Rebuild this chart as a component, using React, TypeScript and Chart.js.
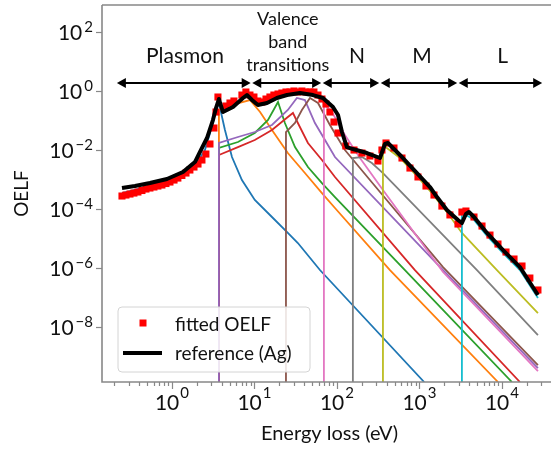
import React, { useEffect, useRef } from "react";
import { Chart, registerables } from "chart.js";

Chart.register(...registerables);

// ---------- data (energy in eV, OELF) ----------
const referenceE = [0.248,0.356,0.541,0.87,1.36,1.9,2.18,2.66,3.14,3.42,3.71,4.15,5.49,7.26,8.11,9.33,11.0,14.2,18.7,24.8,35.6,51.2,67.6,89.5,103,115,132,156,231,332,382,415,580,933,1340,1630,2150,2930,3270,3660,3980,4580,6580,10300,16500,20100,27300];
const referenceV = [5.15e-4,6.02e-4,7.6e-4,1.04e-3,1.8e-3,3.92e-3,8.55e-3,0.0255,0.104,0.265,0.535,0.194,0.287,0.58,0.73,0.495,0.335,0.392,0.58,0.73,0.855,0.73,0.58,0.287,0.154,0.0408,0.0126,0.0108,7.9e-3,5.36e-3,0.016,0.0173,6.78e-3,1.66e-3,5.57e-4,2.55e-4,9.25e-5,4.24e-5,3.35e-5,6.77e-5,7.9e-5,5.36e-5,1.54e-5,4.07e-6,1.08e-6,4.58e-7,1.22e-7];

const fittedE = [0.248,0.277,0.31,0.346,0.387,0.433,0.484,0.541,0.605,0.676,0.756,0.846,0.946,1.06,1.18,1.32,1.48,1.65,1.85,2.07,2.31,2.58,2.89,3.23,3.42,3.61,4.51,5.05,5.64,7.05,7.88,8.82,9.86,11.0,12.3,13.8,15.4,17.2,19.3,21.5,24.1,26.9,30.1,33.7,37.6,42.1,47.1,52.6,58.9,65.8,73.6,82.2,92,103,128,161,201,251,314,351,393,491,614,767,959,1200,1500,1870,2340,2930,3270,3660,4580,5730,7160,8950,11200,14000,17500,21800,27300];
const fittedV = [2.76e-4,2.98e-4,3.22e-4,3.48e-4,3.77e-4,4.24e-4,4.76e-4,5.15e-4,5.57e-4,6.02e-4,6.51e-4,7.31e-4,8.22e-4,9.6e-4,1.12e-3,1.37e-3,1.66e-3,2.1e-3,2.65e-3,3.35e-3,4.58e-3,7.31e-3,0.016,0.0557,0.194,0.626,0.31,0.392,0.458,0.73,0.925,0.73,0.626,0.458,0.424,0.535,0.626,0.73,0.791,0.855,0.925,0.925,1.0,0.925,1.0,0.925,0.925,0.925,0.73,0.535,0.362,0.194,0.0889,0.0377,0.0137,0.01,7.9e-3,6.26e-3,4.24e-3,0.01,0.0173,0.0117,5.36e-3,2.45e-3,1.22e-3,6.02e-4,2.98e-4,1.26e-4,6.3e-5,3.1e-5,7.9e-5,8.55e-5,5.36e-5,2.65e-5,1.31e-5,6.51e-6,3.49e-6,2.02e-6,1.17e-6,4.58e-7,1.8e-7];

// fit components (onset rows start at 1e-12)
const c1E = [0.248,0.541,1.09,1.9,2.51,2.97,3.32,3.71,4.39,5.34,7.05,10.1,16.3,25.4,33.6,62.2,1140];
const c1V = [3.48e-4,6.02e-4,9.6e-4,2.87e-3,0.01,0.0476,0.18,0.392,0.0476,5.79e-3,9.6e-4,2.02e-4,5.36e-5,1.54e-5,7.04e-6,8.55e-7,1.37e-10];
const c2E = [3.71,3.71,5.8,8.82,11.7,16.3,25.4,40.9,65.8,94.6,439,8950];
const c2V = [1e-12,0.227,0.362,0.495,0.194,0.0476,7.9e-3,1.66e-3,3.48e-4,1.08e-4,8.55e-7,1.37e-10];
const c3E = [3.71,3.71,6.31,10.1,14.6,19.3,23.4,31.0,44.5,65.8,94.6,667,13200];
const c3V = [1e-12,0.0117,0.0187,0.0377,0.104,0.424,0.0823,0.0126,2.65e-3,7.6e-4,2.55e-4,8.55e-7,1.37e-10];
const c4E = [3.71,3.71,6.31,10.1,16.3,25.4,29.3,33.6,44.5,65.8,94.6,881,16500];
const c4V = [1e-12,6.78e-3,0.0126,0.0218,0.0476,0.131,0.18,0.0823,0.0173,4.58e-3,1.22e-3,8.55e-7,1.37e-10];
const c5E = [3.71,3.71,6.31,10.1,16.3,25.4,32.7,40.9,54.1,71.6,94.6,1930,27300];
const c5V = [1e-12,0.0173,0.0276,0.0408,0.0703,0.227,0.58,0.495,0.0823,0.0218,5.79e-3,8.55e-7,4.07e-10];
const c6E = [24.1,24.1,31.0,37.6,47.1,58.9,82.2,125,251,1930,27300];
const c6V = [1e-12,0.0408,0.0823,0.227,0.58,0.392,0.0703,0.01,9.6e-4,1.08e-6,5.15e-10];
const c7E = [69.5,69.5,86.9,125,190,361,1930,27300];
const c7V = [1e-12,0.362,0.194,0.0322,5.36e-3,4.4e-4,7.31e-7,3.22e-10];
const c8E = [156,156,201,265,361,4980,27300];
const c8V = [1e-12,5.36e-3,5.79e-3,3.62e-3,1.66e-3,8.55e-7,5.36e-9];
const c9E = [361,361,580,933,1340,2150,3270,8690,27300];
const c9V = [1e-12,0.0148,5.36e-3,1.31e-3,4.07e-4,7.9e-5,1.54e-5,8.55e-7,2.98e-8];
const c10E = [3270,3270,3870,4580,6580,10300,16500,27300];
const c10V = [1e-12,6.77e-5,5.79e-5,4.24e-5,1.22e-5,3.22e-6,8.55e-7,9.6e-8];

const componentColors = ["#1f77b4","#ff7f0e","#2ca02c","#d62728","#9467bd","#8c564b","#e377c2","#7f7f7f","#bcbd22","#17becf"];

// axes
const X_MIN = 0.142, X_MAX = 39300;
const Y_MIN = 1.37e-10, Y_MAX = 823;
const xTickDecades = [0, 1, 2, 3, 4];
const yTickDecades = [-8, -6, -4, -2, 0, 2];

// region annotations
const regionEdges = [0.215, 9.2, 65.8, 332, 2930, 31400];
const regionNames = ["Plasmon", "Valence|band|transitions", "N", "M", "L"];
const regionLabelE = [1.44, 25.4, 175, 1070, 10200];
const ARROW_LEVEL = 1.87;

const FONT = "Lato, 'DejaVu Sans', sans-serif";
const AXIS_COLOR = "#888888";
const TEXT_COLOR = "#111111";

const pts = (E: number[], V: number[]) => E.map((e, i) => ({ x: e, y: V[i] }));

const supText = (d: number) => (d < 0 ? "\u2212" + String(-d) : String(d));

function arrowHead(ctx: CanvasRenderingContext2D, tipX: number, y: number, dir: number) {
  const L = 9, H = 5;
  ctx.beginPath();
  ctx.moveTo(tipX, y);
  ctx.lineTo(tipX - dir * L, y - H);
  ctx.lineTo(tipX - dir * L, y + H);
  ctx.closePath();
  ctx.fill();
}

const decorPlugin = {
  id: "decor",
  afterDatasetsDraw(chart: any) {
    const ctx: CanvasRenderingContext2D = chart.ctx;
    const a = chart.chartArea;
    const xs = chart.scales.x;
    const ys = chart.scales.y;
    ctx.save();

    // spines
    ctx.strokeStyle = AXIS_COLOR;
    ctx.lineWidth = 1.6;
    ctx.beginPath();
    ctx.moveTo(a.left, a.top);
    ctx.lineTo(a.right + 2, a.top);
    ctx.moveTo(a.left, a.top);
    ctx.lineTo(a.left, a.bottom);
    ctx.lineTo(a.right + 2, a.bottom);
    ctx.stroke();

    // x ticks (major + minor)
    ctx.lineWidth = 1.2;
    for (let d = -1; d <= 4; d++) {
      for (let m = 1; m < 10; m++) {
        const v = m * Math.pow(10, d);
        if (v < xs.min || v > xs.max) continue;
        const px = Math.round(xs.getPixelForValue(v)) + 0.5;
        const len = m === 1 ? 7 : 4;
        ctx.beginPath();
        ctx.moveTo(px, a.bottom);
        ctx.lineTo(px, a.bottom + len);
        ctx.stroke();
      }
    }
    // y ticks
    for (const d of yTickDecades) {
      const py = Math.round(ys.getPixelForValue(Math.pow(10, d))) + 0.5;
      ctx.beginPath();
      ctx.moveTo(a.left - 6, py);
      ctx.lineTo(a.left, py);
      ctx.stroke();
    }

    // tick labels
    ctx.fillStyle = TEXT_COLOR;
    ctx.textBaseline = "alphabetic";
    const baseFont = `21px ${FONT}`;
    const expFont = `15px ${FONT}`;
    for (const d of xTickDecades) {
      const px = xs.getPixelForValue(Math.pow(10, d));
      ctx.font = baseFont;
      const wb = ctx.measureText("10").width;
      ctx.font = expFont;
      const e = supText(d);
      const we = ctx.measureText(e).width;
      const start = px - (wb + we + 1) / 2;
      ctx.textAlign = "left";
      ctx.font = baseFont;
      ctx.fillText("10", start, a.bottom + 28);
      ctx.font = expFont;
      ctx.fillText(e, start + wb + 1, a.bottom + 16);
    }
    for (const d of yTickDecades) {
      const py = ys.getPixelForValue(Math.pow(10, d));
      const right = a.left - 9;
      ctx.font = expFont;
      const e = supText(d);
      const we = ctx.measureText(e).width;
      ctx.textAlign = "right";
      ctx.fillText(e, right, py + 0);
      ctx.font = baseFont;
      ctx.fillText("10", right - we - 2, py + 8);
    }

    // axis titles
    ctx.font = `20px ${FONT}`;
    ctx.textAlign = "center";
    ctx.fillText("Energy loss (eV)", (a.left + a.right) / 2 + 3, a.bottom + 58);
    ctx.save();
    ctx.translate(22, (a.top + a.bottom) / 2);
    ctx.rotate(-Math.PI / 2);
    ctx.textBaseline = "middle";
    ctx.font = `19px ${FONT}`;
    ctx.fillText("OELF", 0, 0);
    ctx.restore();

    // region arrows + labels
    const ay = ys.getPixelForValue(ARROW_LEVEL);
    ctx.strokeStyle = "#000";
    ctx.fillStyle = "#000";
    ctx.lineWidth = 2;
    for (let i = 0; i < regionEdges.length - 1; i++) {
      const x0 = xs.getPixelForValue(regionEdges[i]) + (i === 0 ? 0 : 0.8);
      const x1 = xs.getPixelForValue(regionEdges[i + 1]) - 0.8;
      ctx.beginPath();
      ctx.moveTo(x0 + 6, ay);
      ctx.lineTo(x1 - 6, ay);
      ctx.stroke();
      arrowHead(ctx, x0, ay, -1);
      arrowHead(ctx, x1, ay, 1);
    }
    ctx.fillStyle = TEXT_COLOR;
    ctx.textAlign = "center";
    ctx.textBaseline = "alphabetic";
    regionNames.forEach((name, i) => {
      const cx = xs.getPixelForValue(regionLabelE[i]);
      const lines = name.split("|");
      if (lines.length === 1) {
        ctx.font = `21px ${FONT}`;
        ctx.fillText(name, cx, ay - 20);
      } else {
        ctx.font = `18px ${FONT}`;
        lines.forEach((ln, k) => {
          ctx.fillText(ln, cx, ay - 12 - (lines.length - 1 - k) * 23);
        });
      }
    });

    // legend
    const lx = a.left + 16, ly = a.bottom - 75, lw = 192, lh = 65, r = 4;
    ctx.beginPath();
    ctx.moveTo(lx + r, ly);
    ctx.lineTo(lx + lw - r, ly);
    ctx.arcTo(lx + lw, ly, lx + lw, ly + r, r);
    ctx.lineTo(lx + lw, ly + lh - r);
    ctx.arcTo(lx + lw, ly + lh, lx + lw - r, ly + lh, r);
    ctx.lineTo(lx + r, ly + lh);
    ctx.arcTo(lx, ly + lh, lx, ly + lh - r, r);
    ctx.lineTo(lx, ly + r);
    ctx.arcTo(lx, ly, lx + r, ly, r);
    ctx.closePath();
    ctx.fillStyle = "rgba(255,255,255,0.85)";
    ctx.fill();
    ctx.strokeStyle = "#d4d4d4";
    ctx.lineWidth = 1;
    ctx.stroke();

    ctx.fillStyle = "#ff0000";
    ctx.fillRect(a.left + 37.5, a.bottom - 62.5, 7, 7);
    ctx.strokeStyle = "#000";
    ctx.lineWidth = 4;
    ctx.beginPath();
    ctx.moveTo(a.left + 21, a.bottom - 29);
    ctx.lineTo(a.left + 60, a.bottom - 29);
    ctx.stroke();
    ctx.fillStyle = TEXT_COLOR;
    ctx.textAlign = "left";
    ctx.font = `19px ${FONT}`;
    ctx.fillText("fitted OELF", a.left + 73, a.bottom - 51);
    ctx.fillText("reference (Ag)", a.left + 73, a.bottom - 22);

    ctx.restore();
  },
};

export default function App() {
  const ref = useRef<HTMLCanvasElement>(null);
  useEffect(() => {
    document.body.style.margin = "0";
    const canvas = ref.current;
    if (!canvas) return;
    const comps = [
      [c1E, c1V], [c2E, c2V], [c3E, c3V], [c4E, c4V], [c5E, c5V],
      [c6E, c6V], [c7E, c7V], [c8E, c8V], [c9E, c9V], [c10E, c10V],
    ];
    const compSets = comps.map(([E, V], i) => ({
      label: `component ${i + 1}`,
      data: pts(E as number[], V as number[]),
      showLine: true,
      borderColor: componentColors[i],
      backgroundColor: componentColors[i],
      borderWidth: 1.8,
      pointRadius: 0,
      tension: 0,
      order: 20 - i,
    }));
    const chart = new Chart(canvas, {
      type: "scatter",
      data: {
        datasets: [
          {
            label: "reference (Ag)",
            data: pts(referenceE, referenceV),
            showLine: true,
            borderColor: "#000000",
            backgroundColor: "#000000",
            borderWidth: 4,
            pointRadius: 0,
            tension: 0,
            borderJoinStyle: "round",
            order: 0,
          },
          {
            label: "fitted OELF",
            data: pts(fittedE, fittedV),
            showLine: false,
            pointStyle: "rect",
            pointRadius: 5,
            backgroundColor: "#ff0000",
            borderColor: "#ff0000",
            borderWidth: 0,
            order: 1,
          },
          ...compSets,
        ] as any,
      },
      options: {
        animation: false,
        responsive: false,
        events: [],
        layout: { autoPadding: false, padding: { left: 102, top: 5, right: 0, bottom: 68 } },
        plugins: { legend: { display: false }, tooltip: { enabled: false } },
        scales: {
          x: { type: "logarithmic", min: X_MIN, max: X_MAX, display: false },
          y: { type: "logarithmic", min: Y_MIN, max: Y_MAX, display: false },
        },
      },
      plugins: [decorPlugin],
    });
    return () => chart.destroy();
  }, []);
  return (
    <div style={{ width: 551, height: 450 }}>
      <canvas ref={ref} width={551} height={450} style={{ display: "block" }} />
    </div>
  );
}
